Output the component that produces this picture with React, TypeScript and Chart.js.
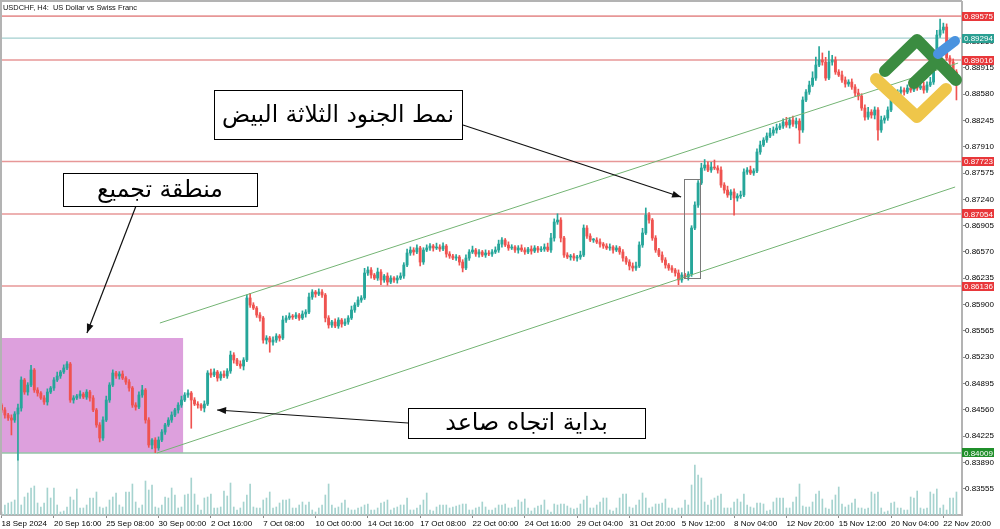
import React, { useEffect, useRef } from "react";
import { Chart, registerables } from "chart.js";
Chart.register(...registerables);

// ---------- DATA ----------
const firstOpen = 0.8462;
const closes = [
  0.84557,0.84493,0.84455,0.84429,0.84506,0.84582,0.84939,0.84786,0.84875,0.85066,
  0.84811,0.84773,0.8471,0.84659,0.84786,0.84837,0.84939,0.8499,0.85041,0.85092,
  0.85143,0.84684,0.8471,0.84735,0.8476,0.84722,0.84786,0.8471,0.84557,0.84366,
  0.842,0.84429,0.84684,0.84875,0.85028,0.8499,0.85015,0.84964,0.84913,0.84837,
  0.8462,0.84595,0.84748,0.84811,0.84429,0.84111,0.84174,0.84073,0.84174,0.84276,
  0.84366,0.84429,0.84493,0.84557,0.8462,0.84684,0.84748,0.84773,0.84684,0.84633,
  0.8462,0.84582,0.84633,0.85028,0.85003,0.85041,0.84964,0.85015,0.8499,0.85054,
  0.85257,0.85194,0.85143,0.85117,0.85194,0.85984,0.85894,0.85856,0.85767,0.85729,
  0.85448,0.85474,0.85423,0.85448,0.85499,0.85474,0.85703,0.85729,0.85754,0.85741,
  0.85767,0.85729,0.8578,0.85805,0.85996,0.8606,0.86034,0.8606,0.86022,0.85729,
  0.8564,0.85678,0.85627,0.85703,0.85652,0.85678,0.85729,0.85831,0.85894,0.85958,
  0.85984,0.86302,0.8634,0.86277,0.86238,0.86315,0.86213,0.86264,0.86187,0.86238,
  0.86213,0.86238,0.86264,0.86404,0.86557,0.86595,0.8657,0.86621,0.86442,0.86595,
  0.86621,0.86646,0.86621,0.86633,0.86608,0.86646,0.86544,0.86519,0.86493,0.86506,
  0.86442,0.86366,0.86493,0.8657,0.86595,0.86544,0.8657,0.86531,0.86557,0.86544,
  0.8657,0.86595,0.86671,0.86722,0.86659,0.86621,0.86633,0.86595,0.86621,0.86595,
  0.8657,0.86608,0.86582,0.86621,0.86595,0.86608,0.86633,0.86595,0.86748,0.86952,
  0.86977,0.86748,0.86531,0.86506,0.86519,0.86493,0.86506,0.86531,0.86875,0.86773,
  0.86722,0.86722,0.86697,0.86671,0.86646,0.86621,0.86633,0.86595,0.86621,0.8657,
  0.86493,0.86442,0.86391,0.86366,0.86391,0.86659,0.86812,0.87041,0.86977,0.86748,
  0.86595,0.86531,0.86468,0.86404,0.86366,0.8634,0.86302,0.86213,0.86277,0.86251,
  0.86289,0.86875,0.87168,0.87449,0.8764,0.87678,0.87614,0.87652,0.8764,0.87614,
  0.87423,0.87359,0.87296,0.87334,0.87258,0.87283,0.87296,0.87589,0.87614,0.87576,
  0.87602,0.87844,0.87933,0.87996,0.88047,0.88086,0.88124,0.88149,0.88175,0.88226,
  0.88188,0.88251,0.882,0.88238,0.88124,0.88506,0.88608,0.88697,0.88786,0.88952,
  0.89016,0.8899,0.88786,0.8899,0.89016,0.88863,0.88825,0.88761,0.8871,0.88735,
  0.88672,0.88595,0.88557,0.88404,0.88289,0.88353,0.88315,0.88379,0.88124,0.88251,
  0.88277,0.88379,0.88506,0.8857,0.88608,0.88633,0.88608,0.88659,0.88633,0.88684,
  0.88659,0.88684,0.88633,0.88697,0.88735,0.89016,0.89334,0.89398,0.89436,0.89041,
  0.8899,0.88863,0.88697,
];
// wick lengths in pips (0.0001)
const upperWickPips = [
  2,3,2,4,3,5,4,2,3,6, 2,3,2,3,4,2,3,5,2,4, 3,2,3,2,4,2,3,2,3,2, 3,4,5,3,4,2,3,4,2,3,
  2,3,4,6,2,3,2,3,4,3, 2,3,4,2,3,5,3,4,2,3, 3,2,4,3,5,4,2,3,4,3, 5,3,2,4,3,4,6,3,2,3,
  2,3,2,4,3,2,5,3,4,2, 3,2,4,3,5,3,2,4,3,2, 3,2,4,3,2,4,3,5,3,4, 3,6,4,3,2,5,3,2,4,3,
  2,3,4,3,5,4,3,4,2,3, 4,3,2,5,3,4,2,3,2,3, 2,3,4,3,5,2,3,2,4,3, 3,4,5,3,2,4,3,2,3,4,
  3,2,4,3,2,3,4,5,6,4, 8,3,2,3,2,3,2,5,4,3, 3,2,3,4,2,3,4,2,3,2, 3,2,3,4,5,4,6,9,3,2,
  3,2,4,3,2,3,2,4,3,2, 3,3,4,3,6,7,4,6,9,3, 4,3,5,3,4,3,5,4,3,5, 3,4,5,3,4,6,4,5,3,4,
  6,3,5,4,3,4,3,5,8,10, 17,9,6,14,6,4,3,5,4,3, 4,3,5,3,4,6,3,4,3,5, 3,4,3,5,3,4,3,4,3,5,
  4,3,5,4,6,8,6,14,5,4, 3,4,3,
];
const lowerWickPips = [
  3,4,3,19,3,59,4,3,4,2, 3,4,2,3,4,2,3,2,3,2, 2,3,4,2,3,2,3,4,2,3, 5,3,2,3,2,3,4,2,3,4,
  3,4,2,3,4,3,5,6,3,2, 3,2,3,2,4,3,2,3,36,2, 4,3,5,2,3,2,4,3,2,3, 3,4,2,3,5,2,3,2,3,4,
  4,5,13,4,3,4,2,3,2,3, 2,3,2,4,2,3,4,2,3,5, 4,3,2,3,4,2,3,2,3,2, 3,2,3,4,2,3,6,3,4,2,
  3,4,2,3,2,3,4,2,5,3, 2,3,4,2,3,2,4,3,2,3, 4,5,2,3,2,3,4,2,3,2, 3,2,3,4,2,3,2,3,4,2,
  3,2,4,2,3,2,3,2,3,4, 3,5,3,2,4,3,4,3,2,3, 2,3,2,4,3,2,3,4,2,3, 4,3,5,4,3,2,3,2,4,3,
  3,2,3,4,3,3,4,6,3,2, 4,3,2,3,2,3,2,3,2,4, 3,4,3,6,22,4,3,2,3,2, 3,2,3,2,3,2,3,4,2,3,
  3,4,3,5,17,3,2,3,2,3, 2,4,3,2,4,3,2,3,4,3, 3,4,5,3,4,3,4,5,13,3, 4,3,2,3,2,3,4,2,3,2,
  3,2,4,3,2,3,2,3,4,3, 4,3,19,
];
const volumes = [
  1500,5000,6000,6500,7500,27500,5000,9000,11000,13500,14500,6000,4000,6000,13500,8500,13500,
  5000,1500,2000,4000,9000,7500,13000,3500,3500,5000,8500,8500,11500,4000,3500,4000,
  7500,9000,11000,5000,4000,11500,11500,15500,6500,3500,5000,17000,12500,15000,4000,
  3500,5000,9000,8500,13500,10000,3500,4000,10000,10500,18500,10500,5000,2500,8500,
  9000,10500,3500,3500,4000,12000,9500,16000,4000,2500,3500,6500,10000,15500,4000,
  3500,3500,7500,8500,11500,3500,4000,6000,7500,7500,8000,3500,3500,5000,
  6500,5000,6500,2500,1500,3500,5000,10000,15500,5000,3500,4000,6000,7500,3500,
  2500,2500,3500,4000,5000,5500,2500,2500,3500,6000,6500,7500,2500,3500,4000,
  5000,5000,8500,2500,2500,3500,5000,7500,11000,2500,2000,4000,5000,5000,5000,
  3500,4000,4500,5000,5500,5500,2500,2500,3500,4000,
  6500,4000,2500,2500,3500,5000,5000,5500,3500,3500,4000,7500,6500,8000,3500,
  2000,3500,4500,5000,7500,2500,1500,5500,5000,5500,5500,4500,3500,3000,3500,
  5500,7500,9500,3500,3500,5000,6500,8500,8500,2500,2000,3500,8500,10500,10500,
  4000,3500,5000,7500,11000,8500,3500,4000,5500,5500,6000,8000,3500,3500,2500,
  3500,3500,7500,5000,15000,25000,20000,18500,6500,5000,7500,8500,9500,10500,3500,
  3500,3500,6500,8000,6500,10500,5000,4000,3500,6000,6000,5500,2000,2500,6500,
  8500,8500,8500,3500,3500,6500,9000,15500,4500,4000,4000,6500,10500,12000,8000,
  3500,3000,7500,10000,14000,5500,4000,5000,6000,8000,3500,3500,3000,3500,11500,
  10500,11500,3500,1500,2000,6000,6500,3500,3500,2500,2500,9000,8500,12000,3500,
  3000,3500,11500,10500,13000,3500,5000,2500,8500,8500,11500,
];
const timeTickBars = [0,16,32,48,64,80,96,112,128,144,160,176,192,208,224,240,256,272,288];
const timeTickLabels = [
  "18 Sep 2024","20 Sep 16:00","25 Sep 08:00","30 Sep 00:00","2 Oct 16:00","7 Oct 08:00",
  "10 Oct 00:00","14 Oct 16:00","17 Oct 08:00","22 Oct 00:00","24 Oct 16:00","29 Oct 04:00",
  "31 Oct 20:00","5 Nov 12:00","8 Nov 04:00","12 Nov 20:00","15 Nov 12:00","20 Nov 04:00","22 Nov 20:00",
];
const priceTicks = [
  0.83555,0.8389,0.84225,0.8456,0.84895,0.8523,0.85565,0.859,0.86235,0.8657,
  0.86905,0.8724,0.87575,0.8791,0.88245,0.8858,0.88915,0.8925,0.89585,
];
const levelValues = [0.89575, 0.89294, 0.89016, 0.87723, 0.87054, 0.86136, 0.84009];
const levelKinds = ["red", "teal", "red", "red", "red", "red", "green"];
const upperChannel = [{ x: 48.4, y: 0.85665 }, { x: 292.5, y: 0.88977 }];
const lowerChannel = [{ x: 47.5, y: 0.84009 }, { x: 291.6, y: 0.87398 }];
const zoneRect = { x0: -0.3, x1: 55.5, p0: 0.85474, p1: 0.84009 };
const soldiersRect = { x0: 208.7, x1: 213.6, p0: 0.875, p1: 0.86238 };
const noteTexts = ["نمط الجنود الثلاثة البيض", "منطقة تجميع", "بداية اتجاه صاعد"];
const noteBoxes = [
  { x0: 65.0, x1: 140.8, p0: 0.88633, p1: 0.88009 },
  { x0: 18.8, x1: 78.1, p0: 0.87576, p1: 0.87156 },
  { x0: 124.3, x1: 196.7, p0: 0.84582, p1: 0.842 },
];
const noteArrows = [
  { x0: 141.1, p0: 0.88188, x1: 207.8, p1: 0.8727 },
  { x0: 41.1, p0: 0.87156, x1: 26.1, p1: 0.85538 },
  { x0: 124.3, p0: 0.84391, x1: 65.9, p1: 0.84557 },
];
const title = "USDCHF, H4:  US Dollar vs Swiss Franc";

// ---------- STYLE / LAYOUT ----------
const PIP = 0.0001;
const X_MIN = 0.12, X_MAX = 293.7;
const Y_MIN = 0.83219, Y_MAX = 0.89755;
const VOL_MAX = 256500;
const UP = "#26a69a", DOWN = "#ef5350";
const levelLine: Record<string, string> = { red: "#e79797", teal: "#a3cfcf", green: "#93c6a6" };
const levelBg: Record<string, string> = { red: "#e8373a", teal: "#2a9f92", green: "#1f8f2a" };
const noteTargetWidth = [232, 126, 163];

function drawArrow(ctx: CanvasRenderingContext2D, x1: number, y1: number, x2: number, y2: number) {
  ctx.beginPath(); ctx.moveTo(x1, y1); ctx.lineTo(x2, y2); ctx.stroke();
  const a = Math.atan2(y2 - y1, x2 - x1);
  const L = 9, W = 3.5;
  ctx.beginPath();
  ctx.moveTo(x2, y2);
  ctx.lineTo(x2 - L * Math.cos(a) + W * Math.sin(a), y2 - L * Math.sin(a) - W * Math.cos(a));
  ctx.lineTo(x2 - L * Math.cos(a) - W * Math.sin(a), y2 - L * Math.sin(a) + W * Math.cos(a));
  ctx.closePath(); ctx.fill();
}

const overlayPlugin = {
  id: "overlay",
  beforeDatasetsDraw(chart: any) {
    const { ctx, chartArea: ca, scales } = chart;
    const xs = scales.x, ys = scales.y;
    ctx.save();
    ctx.beginPath(); ctx.rect(ca.left, ca.top, ca.right - ca.left, ca.bottom - ca.top); ctx.clip();
    const x0 = xs.getPixelForValue(zoneRect.x0), x1 = xs.getPixelForValue(zoneRect.x1);
    const y0 = ys.getPixelForValue(zoneRect.p0), y1 = ys.getPixelForValue(zoneRect.p1);
    ctx.fillStyle = "#dda0dd";
    ctx.fillRect(x0, y0, x1 - x0, y1 - y0);
    ctx.restore();
  },
  afterDatasetsDraw(chart: any) {
    const { ctx, chartArea: ca, scales } = chart;
    const xs = scales.x, ys = scales.y;
    ctx.save();
    {
      const x0 = xs.getPixelForValue(soldiersRect.x0), x1 = xs.getPixelForValue(soldiersRect.x1);
      const y0 = ys.getPixelForValue(soldiersRect.p0), y1 = ys.getPixelForValue(soldiersRect.p1);
      ctx.strokeStyle = "#7a7a7a"; ctx.lineWidth = 1;
      ctx.strokeRect(Math.round(x0) + 0.5, Math.round(y0) + 0.5, Math.round(x1 - x0), Math.round(y1 - y0));
    }
    ctx.strokeStyle = "#111"; ctx.fillStyle = "#111"; ctx.lineWidth = 1.2;
    noteArrows.forEach((a) => {
      drawArrow(ctx, xs.getPixelForValue(a.x0), ys.getPixelForValue(a.p0), xs.getPixelForValue(a.x1), ys.getPixelForValue(a.p1));
    });
    noteBoxes.forEach((b, k) => {
      const x0 = Math.round(xs.getPixelForValue(b.x0)), x1 = Math.round(xs.getPixelForValue(b.x1));
      const y0 = Math.round(ys.getPixelForValue(b.p0)), y1 = Math.round(ys.getPixelForValue(b.p1));
      ctx.fillStyle = "#ffffff";
      ctx.fillRect(x0, y0, x1 - x0, y1 - y0);
      ctx.strokeStyle = "#000"; ctx.lineWidth = 1;
      ctx.strokeRect(x0 + 0.5, y0 + 0.5, x1 - x0, y1 - y0);
      ctx.font = '28px "DejaVu Sans"';
      const w = ctx.measureText(noteTexts[k]).width;
      const size = Math.min(34, 28 * noteTargetWidth[k] / w);
      ctx.font = `${size.toFixed(1)}px "DejaVu Sans"`;
      ctx.fillStyle = "#000";
      ctx.textAlign = "center"; ctx.textBaseline = "middle";
      (ctx as any).direction = "rtl";
      ctx.fillText(noteTexts[k], (x0 + x1) / 2, (y0 + y1) / 2 + 1);
      (ctx as any).direction = "ltr";
    });
    // logo watermark
    ctx.lineCap = "round"; ctx.lineJoin = "round";
    const R = ca.right, T = ca.top;
    const strokes: [string, number, number[][]][] = [
      ["#efc64a", 12, [[R - 86, T + 77], [R - 45, T + 115], [R - 16, T + 87]]],
      ["#3b8c41", 12, [[R - 77, T + 69], [R - 45, T + 38], [R - 6, T + 78]]],
      ["#3b8c41", 12, [[R - 48, T + 81], [R - 25, T + 59]]],
      ["#4a93df", 10, [[R - 24, T + 52], [R - 7, T + 39]]],
    ];
    strokes.forEach(([c, w, pts]) => {
      ctx.strokeStyle = c; ctx.lineWidth = w;
      ctx.beginPath();
      pts.forEach((p, i) => (i === 0 ? ctx.moveTo(p[0], p[1]) : ctx.lineTo(p[0], p[1])));
      ctx.stroke();
    });
    ctx.restore();
  },
  afterDraw(chart: any) {
    const { ctx, chartArea: ca, scales } = chart;
    const ys = scales.y;
    ctx.save();
    ctx.fillStyle = "#b3b3b3";
    ctx.fillRect(0, 0, ca.right, 2);
    ctx.fillRect(0, 0, 2, ca.bottom);
    ctx.font = '8.5px "Liberation Sans"';
    const tw = ctx.measureText(title).width;
    ctx.font = `${(8.5 * 134 / tw).toFixed(2)}px "Liberation Sans"`;
    ctx.fillStyle = "#111"; ctx.textAlign = "left"; ctx.textBaseline = "alphabetic";
    ctx.fillText(title, 3, 9.5);
    ctx.font = '8px "Liberation Sans"';
    ctx.textBaseline = "middle";
    levelValues.forEach((v, k) => {
      const y = ys.getPixelForValue(v);
      ctx.fillStyle = levelBg[levelKinds[k]];
      ctx.fillRect(ca.right, Math.round(y - 4.5), 32, 9);
      ctx.fillStyle = "#ffffff";
      ctx.fillText(v.toFixed(5), ca.right + 2, y + 0.5);
    });
    ctx.restore();
  },
};

export default function App() {
  const ref = useRef<HTMLCanvasElement>(null);
  useEffect(() => {
    if (!ref.current) return;
    const n = Math.min(closes.length, upperWickPips.length, lowerWickPips.length);
    const opens = closes.map((c, i) => (i === 0 ? firstOpen : closes[i - 1]));
    const bodyData: any[] = [], wickData: any[] = [], colors: string[] = [];
    for (let i = 0; i < n; i++) {
      const o = opens[i], c = closes[i];
      const hi = Math.max(o, c) + upperWickPips[i] * PIP;
      const lo = Math.min(o, c) - lowerWickPips[i] * PIP;
      bodyData.push({ x: i, y: [o, c] });
      wickData.push({ x: i, y: [lo, hi] });
      colors.push(c >= o ? UP : DOWN);
    }
    const volData = volumes.map((v, i) => ({ x: i, y: v }));

    Chart.defaults.font.family = '"Liberation Sans", Arial, sans-serif';
    const chart = new Chart(ref.current, {
      type: "bar",
      data: {
        datasets: [
          { type: "bar", data: volData, yAxisID: "yv", backgroundColor: "#a6d3cf", barThickness: 1, order: 10 } as any,
          ...levelValues.map((v, k) => ({
            type: "line", data: [{ x: X_MIN, y: v }, { x: X_MAX, y: v }], yAxisID: "y",
            borderColor: levelLine[levelKinds[k]], borderWidth: levelKinds[k] === "teal" ? 1.2 : 1.6,
            pointRadius: 0, order: 8,
          } as any)),
          { type: "bar", data: wickData, yAxisID: "y", backgroundColor: colors, barThickness: 1, order: 5 } as any,
          { type: "bar", data: bodyData, yAxisID: "y", backgroundColor: colors, barThickness: 2.2, minBarLength: 1, order: 4 } as any,
          { type: "line", data: upperChannel, yAxisID: "y", borderColor: "#74b474", borderWidth: 1, pointRadius: 0, order: 2 } as any,
          { type: "line", data: lowerChannel, yAxisID: "y", borderColor: "#74b474", borderWidth: 1, pointRadius: 0, order: 2 } as any,
        ],
      },
      options: {
        responsive: false,
        animation: false,
        devicePixelRatio: 1,
        events: [],
        layout: { padding: { left: 2, top: 2, right: 0, bottom: 0 } },
        plugins: { legend: { display: false }, tooltip: { enabled: false } },
        datasets: { bar: { grouped: false } } as any,
        scales: {
          x: {
            type: "linear", min: X_MIN, max: X_MAX, offset: false,
            grid: { display: true, drawOnChartArea: false, drawTicks: true, tickLength: 3, color: "#8a8a8a", offset: false } as any,
            border: { display: true, color: "#b3b3b3", width: 2 },
            ticks: {
              autoSkip: false, maxRotation: 0, minRotation: 0, align: "start", padding: 1, color: "#000",
              font: { size: 8, family: '"Liberation Sans"' },
              callback: (v: any) => { const k = timeTickBars.indexOf(Number(v)); return k >= 0 ? timeTickLabels[k] : ""; },
            },
            afterBuildTicks: (s: any) => { s.ticks = timeTickBars.map((v) => ({ value: v })); },
            afterFit: (s: any) => { s.height = 14; s.paddingLeft = 0; s.paddingRight = 0; },
          } as any,
          y: {
            type: "linear", position: "right", min: Y_MIN, max: Y_MAX,
            grid: { display: true, drawOnChartArea: false, drawTicks: true, tickLength: 3, color: "#8a8a8a" },
            border: { display: true, color: "#b3b3b3", width: 2 },
            ticks: {
              autoSkip: false, padding: 0, color: "#000",
              font: { size: 8, family: '"Liberation Sans"' },
              callback: (v: any) => Number(v).toFixed(5),
            },
            afterBuildTicks: (s: any) => { s.ticks = priceTicks.map((v) => ({ value: v })); },
            afterFit: (s: any) => { s.width = 38; s.paddingTop = 0; s.paddingBottom = 0; },
          } as any,
          yv: { type: "linear", display: false, min: 0, max: VOL_MAX } as any,
        },
      },
      plugins: [overlayPlugin as any],
    });
    return () => chart.destroy();
  }, []);
  return (
    <div style={{ position: "fixed", left: 0, top: 0, width: 1000, height: 529, background: "#fff" }}>
      <canvas ref={ref} width={1000} height={529} style={{ display: "block" }} />
    </div>
  );
}
